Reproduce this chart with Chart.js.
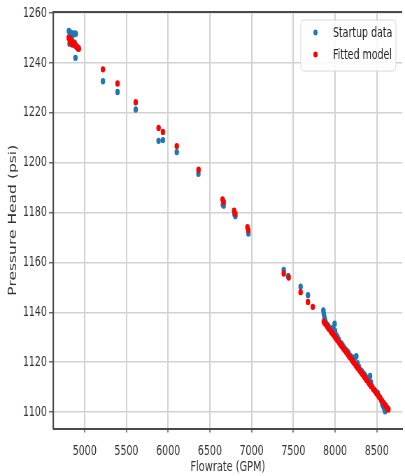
<!DOCTYPE html>
<html>
<head>
<meta charset="utf-8">
<script src="https://cdn.jsdelivr.net/npm/chart.js@4.4.1/dist/chart.umd.min.js"></script>
<style>
  html, body { margin: 0; padding: 0; background: #fff; overflow: hidden; }
  /* the source figure was squeezed sideways, so draw wide and squeeze */
  #chart { display: block; transform: scaleX(0.6995); transform-origin: 0 0; }
</style>
</head>
<body>
<canvas id="chart" width="579" height="476"></canvas>
<script>
const seriesNames = ['Startup data', 'Fitted model'];

const startupFlow = [
  4810, 4822, 4835, 4848, 4860, 4874, 4893, 4818, 4840, 4856, 4880, 4898, 4910, 4920, 4889,
  5218, 5393, 5611, 5885, 5937, 6103, 6362, 6655, 6665, 6795, 6805, 6962,
  7385, 7440, 7587, 7675,
  7860, 7865, 7872, 7880, 7890, 7905, 7920, 7940, 7960, 7980, 7995, 8000, 8015, 8030, 8045,
  8060, 8075, 8090, 8110, 8125, 8140, 8160, 8175, 8190, 8210, 8225, 8240, 8255, 8270, 8285,
  8300, 8320, 8340, 8360, 8380, 8400, 8420, 8430, 8445, 8460, 8480, 8495, 8510, 8525, 8540,
  8555, 8565, 8575, 8585, 8595, 8600
];
const startupHead = [
  1252.9, 1251.6, 1252.2, 1250.8, 1251.4, 1251.9, 1251.8, 1247.8, 1247.8, 1247.4, 1248.2, 1247.0, 1246.2, 1245.8, 1242.1,
  1232.7, 1228.4, 1221.4, 1208.8, 1209.1, 1204.3, 1195.6, 1183.2, 1182.8, 1179.4, 1178.6, 1171.6,
  1157.0, 1154.6, 1150.3, 1146.9,
  1140.8, 1139.5, 1138.2, 1137.0, 1135.8, 1135.0, 1134.5, 1133.6, 1132.5, 1133.8, 1135.4, 1132.5, 1130.8, 1130.0, 1129.0,
  1127.8, 1127.5, 1126.8, 1125.8, 1125.0, 1124.6, 1123.9, 1122.8, 1122.3, 1121.8, 1121.5, 1121.9, 1122.4, 1119.6, 1118.2,
  1117.0, 1116.4, 1115.6, 1114.8, 1113.8, 1113.5, 1114.5, 1112.0, 1110.3, 1109.2, 1108.6, 1107.6, 1107.8, 1106.5, 1105.8,
  1104.6, 1103.2, 1102.6, 1101.8, 1100.8, 1100.3
];

const fittedFlow = [
  4808, 4815, 4822, 4830, 4838, 4846, 4854, 4862, 4870, 4878, 4886, 4894, 4902, 4912, 4922, 4930, 4826, 4850,
  5218, 5393, 5611, 5885, 5937, 6103, 6364, 6652, 6665, 6790, 6805, 6950, 6960,
  7385, 7444, 7587, 7675, 7733,
  7865, 7880, 7900, 7915, 7930, 7950, 7965, 7980, 8000, 8015, 8030, 8050, 8065, 8080, 8100, 8115,
  8130, 8150, 8165, 8180, 8200, 8215, 8230, 8250, 8265, 8280, 8300, 8315, 8330, 8350, 8365, 8380,
  8400, 8415, 8430, 8450, 8465, 8480, 8500, 8515, 8530, 8550, 8565, 8580, 8600, 8615, 8630, 8640
];
const fittedHead = [
  1250.2, 1249.8, 1250.0, 1249.3, 1249.0, 1248.7, 1248.5, 1248.1, 1247.8, 1247.6, 1247.2, 1246.9, 1246.6, 1246.4, 1246.1, 1245.8, 1248.3, 1247.6,
  1237.5, 1231.8, 1224.3, 1214.0, 1212.4, 1206.7, 1197.2, 1185.3, 1184.3, 1180.8, 1179.6, 1174.2, 1173.0,
  1155.6, 1154.0, 1148.1, 1144.2, 1142.2,
  1136.2, 1135.5, 1134.6, 1133.9, 1133.2, 1132.3, 1131.7, 1131.0, 1130.1, 1129.4, 1128.7, 1127.8, 1127.1, 1126.4, 1125.5, 1124.9,
  1124.2, 1123.3, 1122.6, 1121.9, 1121.0, 1120.3, 1119.6, 1118.7, 1118.0, 1117.4, 1116.5, 1115.8, 1115.1, 1114.2, 1113.5, 1112.8,
  1111.9, 1111.2, 1110.5, 1109.6, 1109.0, 1108.3, 1107.4, 1106.7, 1106.0, 1105.1, 1104.4, 1103.7, 1102.8, 1102.1, 1101.4, 1101.0
];

const flowTicks = [5000, 5500, 6000, 6500, 7000, 7500, 8000, 8500];
const headTicks = [1100, 1120, 1140, 1160, 1180, 1200, 1220, 1240, 1260];

const blue = '#1f77b4';
const red = '#ff0000';
const spineColor = '#4a4a4a';
const gridColor = '#d2d2d2';
const fontFamily = '"DejaVu Sans", sans-serif';

function toPoints(xs, ys) {
  return xs.map((x, i) => ({ x: x, y: ys[i] }));
}

// top spine + matplotlib style legend box
const frameAndLegend = {
  id: 'frameAndLegend',
  afterDraw(chart) {
    const { ctx, chartArea: area } = chart;
    ctx.save();
    ctx.strokeStyle = spineColor;
    ctx.lineWidth = 2;
    ctx.beginPath();
    ctx.moveTo(area.left - 1, area.top);
    ctx.lineTo(area.right, area.top);
    ctx.stroke();

    const x0 = area.right - 145;
    const y0 = area.top + 8;
    ctx.beginPath();
    ctx.roundRect(x0, y0, 136, 51, 4);
    ctx.fillStyle = 'rgba(255,255,255,0.85)';
    ctx.fill();
    ctx.strokeStyle = '#d8d8d8';
    ctx.lineWidth = 1;
    ctx.stroke();

    const colors = [blue, red];
    ctx.font = '13.5px ' + fontFamily;
    ctx.textBaseline = 'middle';
    ctx.textAlign = 'left';
    seriesNames.forEach((name, i) => {
      const cy = y0 + 12.5 + i * 22;
      ctx.fillStyle = colors[i];
      ctx.beginPath();
      ctx.arc(x0 + 21, cy, 3, 0, Math.PI * 2);
      ctx.fill();
      ctx.fillStyle = '#222';
      ctx.fillText(name, x0 + 46, cy + 0.5);
    });
    ctx.restore();
  }
};

const ctx = document.getElementById('chart').getContext('2d');
new Chart(ctx, {
  type: 'scatter',
  data: {
    datasets: [
      {
        label: seriesNames[0],
        data: toPoints(startupFlow, startupHead),
        backgroundColor: blue,
        borderWidth: 0,
        pointRadius: 3.2,
        order: 1
      },
      {
        label: seriesNames[1],
        data: toPoints(fittedFlow, fittedHead),
        backgroundColor: red,
        borderWidth: 0,
        pointRadius: 3.2,
        order: 0
      }
    ]
  },
  options: {
    responsive: false,
    animation: false,
    layout: { padding: { top: 12, left: 0, right: 0, bottom: 0 } },
    plugins: {
      legend: { display: false },
      tooltip: { enabled: false }
    },
    scales: {
      x: {
        type: 'linear',
        min: 4626,
        max: 8805,
        afterFit: scale => { scale.height = 47.5; },
        afterBuildTicks: scale => { scale.ticks = flowTicks.map(v => ({ value: v })); },
        ticks: {
          color: '#333',
          font: { family: fontFamily, size: 13.5 },
          padding: 11,
          maxRotation: 0,
          callback: v => String(v)
        },
        grid: { color: gridColor, lineWidth: 2, tickColor: spineColor, tickLength: 4, tickWidth: 1.4 },
        border: { color: spineColor, width: 2 },
        title: {
          display: true,
          text: 'Flowrate (GPM)',
          color: '#333',
          font: { family: fontFamily, size: 14 },
          padding: { top: 0, bottom: 0 }
        }
      },
      y: {
        type: 'linear',
        min: 1093.4,
        max: 1260.5,
        afterFit: scale => { scale.width = 76.5; },
        afterBuildTicks: scale => { scale.ticks = headTicks.map(v => ({ value: v })); },
        ticks: {
          color: '#333',
          font: { family: fontFamily, size: 13.5 },
          padding: 3,
          callback: v => String(v)
        },
        grid: { color: gridColor, lineWidth: 1.6, tickColor: spineColor, tickLength: 6.5, tickWidth: 1.2 },
        border: { color: spineColor, width: 2.2 },
        title: {
          display: true,
          text: 'Pressure Head (psi)',
          color: '#333',
          font: { family: fontFamily, size: 15.5 },
          padding: { top: 9.3, bottom: 0 }
        }
      }
    }
  },
  plugins: [frameAndLegend]
});
</script>
</body>
</html>
